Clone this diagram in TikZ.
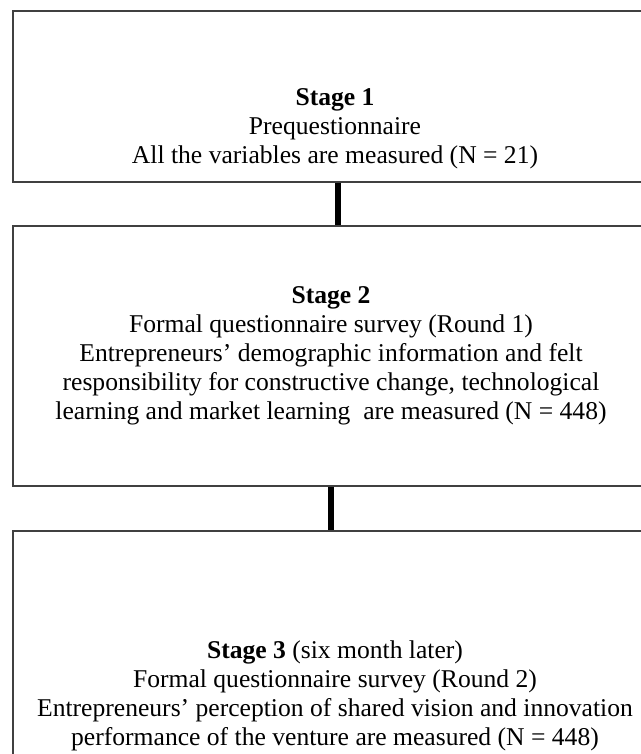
\documentclass[tikz,border=0pt]{standalone}
\usepackage{fontspec}
\setmainfont{Liberation Serif}
\usetikzlibrary{calc}

\begin{document}
\begin{tikzpicture}[x=0.5pt,y=-0.5pt,
    stagebox/.style={draw=black!75,line width=1pt,inner sep=0pt,
      minimum width=322pt},
    stagetext/.style={align=center,font=\fontsize{12.8}{14.5}\selectfont,
      inner sep=0pt},
    flow/.style={line width=3.2pt,black}]
  \useasboundingbox (0,0) rectangle (641,754);

  % the three stages
  \node[stagebox,minimum height=85.5pt] (box1) at (335,96.5) {};
  \node[stagebox,minimum height=130pt] (box2) at (335,356) {};
  \node[stagebox,minimum height=120pt] (box3) at (335,651) {};

  \node[stagetext] (text1) at (335,129)
    {\textbf{Stage 1}\\
     Prequestionnaire\\
     All the variables are measured (N = 21)};
  \node[stagetext] (text2) at (331,356)
    {\textbf{Stage 2}\\
     Formal questionnaire survey (Round 1)\\
     Entrepreneurs’ demographic information and felt\\
     responsibility for constructive change, technological\\
     learning and market learning\ \ are measured (N = 448)};
  \node[stagetext] (text3) at (335,695.5)
    {\textbf{Stage 3} (six month later)\\
     Formal questionnaire survey (Round 2)\\
     Entrepreneurs’ perception of shared vision and innovation\\
     performance of the venture are measured (N = 448)};

  % connectors
  \draw[flow] ($(box1.south)+(3,0)$) -- ($(box2.north)+(3,0)$);
  \draw[flow] ($(box2.south)+(-4,0)$) -- ($(box3.north)+(-4,0)$);
\end{tikzpicture}
\end{document}
